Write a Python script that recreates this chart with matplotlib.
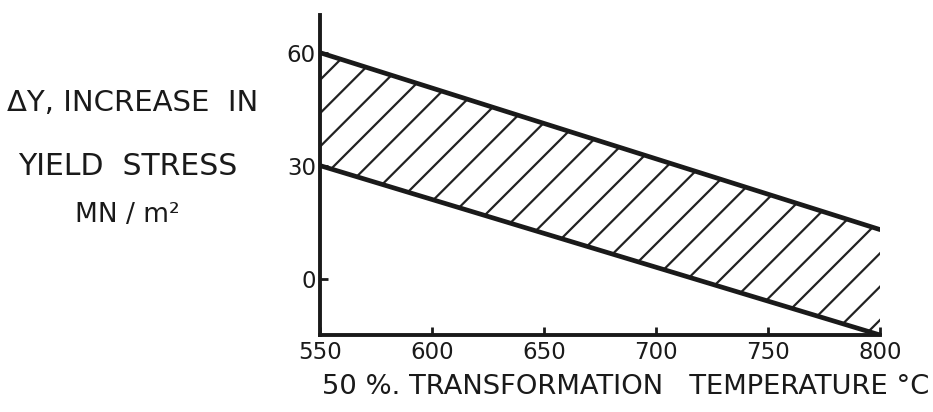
import matplotlib
matplotlib.use("Agg")
import matplotlib.pyplot as plt

# data
temp = [550, 800]
upper = [60, 13]
lower = [30, -15]
xticks = [550, 600, 650, 700, 750, 800]
yticks = [0, 30, 60]
ylabel_lines = ["\u0394Y, INCREASE  IN", "YIELD  STRESS", "MN / m\u00b2"]
xlabel = "50 %. TRANSFORMATION   TEMPERATURE \u00b0C"

plt.rcParams["font.family"] = ["DejaVu Sans"]
plt.rcParams["hatch.linewidth"] = 1.6

# at dpi 100 the default "/" hatch spacing is close to the drawing
DPI = 100
fig = plt.figure(figsize=(933 / DPI, 412 / DPI), dpi=DPI)
ax = fig.add_axes([320 / 933, 77 / 412, 560 / 933, 320 / 412])

ax.fill_between(temp, lower, upper, facecolor="none", edgecolor="#222222",
                hatch="/", linewidth=0)
ax.plot(temp, upper, color="#1a1a1a", linewidth=3.4, solid_capstyle="round")
ax.plot(temp, lower, color="#1a1a1a", linewidth=3.4, solid_capstyle="round")

ax.set_xlim(550, 800)
ax.set_ylim(-15, 70)
ax.set_xticks(xticks)
ax.set_yticks(yticks)
ax.tick_params(direction="in", length=6, width=2, labelsize=16.5,
               colors="#1a1a1a", pad=4)
ax.tick_params(axis="y", pad=3)

for side in ["top", "right"]:
    ax.spines[side].set_visible(False)
for side in ["left", "bottom"]:
    ax.spines[side].set_linewidth(2.8)
    ax.spines[side].set_color("#1a1a1a")

# y label as three separate lines
fig.text(133 / 933, 1 - 103 / 412, ylabel_lines[0], ha="center", va="center",
         fontsize=21, color="#1a1a1a")
fig.text(128 / 933, 1 - 167 / 412, ylabel_lines[1], ha="center", va="center",
         fontsize=21.5, color="#1a1a1a")
fig.text(127 / 933, 1 - 215 / 412, ylabel_lines[2], ha="center", va="center",
         fontsize=19, color="#1a1a1a")

fig.text(322 / 933, 1 - 387 / 412, xlabel, ha="left", va="center",
         fontsize=19.7, color="#1a1a1a")

fig.savefig("out.png", dpi=DPI)
